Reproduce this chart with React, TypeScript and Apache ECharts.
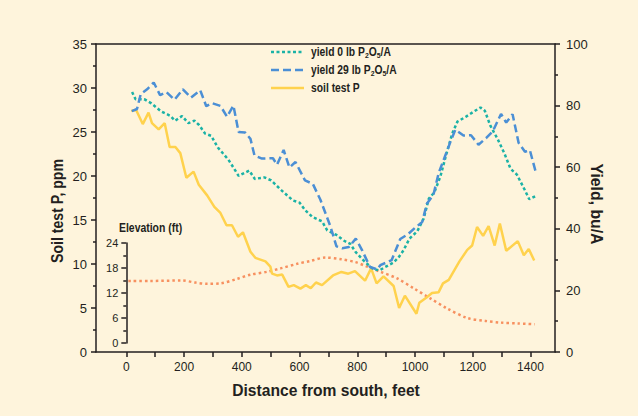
import React, { useEffect, useRef } from "react";
import * as echarts from "echarts";

// ---- data (feet from south) ----
const soilX = [17,34,57,77,89,112,133,150,170,187,208,233,251,280,305,326,347,366,387,404,430,447,482,499,505,522,540,562,580,603,622,639,657,678,716,745,769,792,827,848,867,891,926,945,965,1005,1015,1040,1059,1082,1097,1117,1154,1181,1198,1215,1236,1255,1276,1294,1316,1356,1377,1394,1413];
const soilP = [27.4,27.5,25.9,27.2,26.0,25.3,26.0,23.3,23.3,22.6,19.8,20.5,19.0,17.8,16.5,15.8,14.4,14.4,13.1,13.6,11.4,10.7,10.3,9.7,8.9,8.7,8.8,7.4,7.6,7.2,7.6,7.25,7.9,7.6,8.7,9.1,8.9,9.2,8.1,9.5,7.8,8.6,7.5,5.0,6.4,4.35,5.6,6.2,6.7,6.8,7.8,8.2,10.3,11.6,12.1,14.2,13.2,14.3,12.1,14.6,11.5,12.6,11.0,11.7,10.4];

const y29X = [19,37,50,72,95,117,139,167,196,224,256,277,297,326,349,371,389,411,430,444,470,508,522,545,565,586,619,646,672,707,728,748,771,795,817,844,869,880,919,949,975,1000,1025,1041,1064,1082,1105,1123,1140,1168,1194,1220,1247,1270,1298,1316,1338,1359,1381,1398,1417];
const yield29 = [78.2,78.9,83.7,85.3,87.5,83.4,84.4,81.9,85.3,82.6,85.0,79.8,80.8,79.9,76.4,80.0,71.4,71.3,69.2,63.8,62.8,62.9,60.8,65.6,59.9,61.7,55.7,54.6,49.5,40.8,34.3,33.7,34.1,36.8,33.0,27.6,26.8,28.2,29.8,36.7,38.2,40.3,42.2,48.1,51.1,58.1,63.8,68.3,72.2,70.3,70.4,67.3,69.5,71.7,77.3,74.5,77.2,67.9,65.0,65.5,58.9];

const y0X = [20,32,62,87,121,152,169,193,215,236,252,273,294,317,354,389,426,445,478,502,534,577,600,620,645,678,696,728,753,776,794,825,854,877,897,925,943,960,981,1008,1030,1048,1067,1088,1109,1129,1147,1175,1201,1227,1242,1261,1287,1310,1331,1353,1376,1396,1417];
const yield0 = [84.4,82.1,82.1,80.7,78.1,76.7,75.1,76.6,74.3,75.1,73.7,70.9,70.2,66.4,62.4,57.2,58.9,56.2,56.7,55.7,52.8,49.2,48.5,46.0,43.8,42.4,39.5,38.0,36.2,35.1,32.5,29.4,27.0,26.5,27.6,29.0,30.7,33.0,36.8,39.2,43.3,49.8,51.8,57.0,64.4,70.9,74.8,76.3,77.9,79.4,78.3,73.5,69.0,64.4,59.5,57.6,53.4,49.6,50.6];

const elevX = [7,83,193,239,280,326,384,430,488,534,592,638,690,745,794,828,880,938,996,1053,1111,1181,1244,1296,1358,1414];
const elev = [14.9,14.9,15.0,14.5,14.2,14.3,15.4,16.4,17.1,17.9,19.0,19.7,20.5,20.1,19.4,18.5,17.1,15.5,13.1,10.7,8.3,6.0,5.3,4.9,4.7,4.5];

const xTicks = [0,100,200,300,400,500,600,700,800,900,1000,1100,1200,1300,1400];
const xLabels = [0,200,400,600,800,1000,1200,1400];

const legendNames = ["yield 0 lb P{s|2}O{s|5}/A", "yield 29 lb P{s|2}O{s|5}/A", "soil test P"];

const FONT = '"Liberation Sans", Arial, Helvetica, sans-serif';
const INK = "#231f20";
const BG = "#fef4dc";
const TEAL = "#1ab2a6";
const BLUE = "#4b8fd5";
const YELLOW = "#ffd24d";
const ORANGE = "#f7905f";

const pairs = (xs: number[], ys: number[]) => xs.map((x, i) => [x, ys[i]]);

// layout
const GL = 96, GR = 83, GT = 44, GB = 64;
const XMIN = -105, XMAX = 1485;
const W = 638 - GL - GR;
const insetLeft = GL + (-XMIN) * W / (XMAX - XMIN);

export default function App() {
  const ref = useRef<HTMLDivElement>(null);
  useEffect(() => {
    const chart = echarts.init(ref.current!, null, { renderer: "svg" });
    const axisLine = { show: true, onZero: false, lineStyle: { color: INK, width: 1.5 } };
    const tick = { show: true, length: 5, lineStyle: { color: INK, width: 1.5 } };
    const minor = { show: true, splitNumber: 2, length: 3, lineStyle: { color: INK, width: 1.5 } };
    const lbl = { color: INK, fontFamily: FONT, fontSize: 12, formatter: (v: number) => String(v) };
    const legendLine = (i: number, color: string, dash: number[] | null) => ({
      type: "line",
      shape: { x1: 271, y1: 52 + i * 18, x2: 304, y2: 52 + i * 18 },
      style: { stroke: color, lineWidth: 2.5, lineDash: dash || undefined },
    });
    const legendText = (i: number) => ({
      type: "text",
      x: 311,
      y: 52 + i * 18,
      scaleX: 0.86,
      style: {
        text: legendNames[i],
        fill: INK,
        font: `bold 12px ${FONT}`,
        verticalAlign: "middle",
        lineHeight: 14,
        rich: { s: { fontSize: 8, fontWeight: "bold", fontFamily: FONT, fill: INK, verticalAlign: "bottom", lineHeight: 8, padding: [5, 0, 0, 0] } },
      },
    });
    chart.setOption({
      animation: false,
      backgroundColor: BG,
      grid: [
        { left: GL, right: GR, top: GT, bottom: GB },
        { left: insetLeft, right: GR, top: 243, bottom: 73 },
      ],
      xAxis: [
        {
          gridIndex: 0, type: "value", min: XMIN, max: XMAX, position: "bottom",
          axisLine, axisTick: { ...tick, customValues: xTicks },
          axisLabel: { ...lbl, margin: 9, customValues: xLabels },
          splitLine: { show: false },
        },
        {
          gridIndex: 0, type: "value", min: XMIN, max: XMAX, position: "top",
          axisLine, axisTick: { show: false }, axisLabel: { show: false }, splitLine: { show: false },
        },
        { gridIndex: 1, type: "value", min: 0, max: XMAX, show: false, splitLine: { show: false } },
      ],
      yAxis: [
        {
          gridIndex: 0, type: "value", min: 0, max: 35, interval: 5, position: "left",
          axisLine, axisTick: tick, minorTick: minor, splitLine: { show: false },
          axisLabel: { ...lbl, fontSize: 13, margin: 9 },
        },
        {
          gridIndex: 0, type: "value", min: 0, max: 100, interval: 20, position: "right",
          axisLine, axisTick: tick, minorTick: minor, splitLine: { show: false },
          axisLabel: { ...lbl, fontSize: 13, margin: 11 },
        },
        {
          gridIndex: 1, type: "value", min: 0, max: 24, interval: 6, position: "left",
          axisLine, axisTick: tick, minorTick: minor, splitLine: { show: false },
          axisLabel: { ...lbl, fontSize: 11, margin: 8 },
        },
      ],
      series: [
        {
          name: "elevation", type: "line", xAxisIndex: 2, yAxisIndex: 2, data: pairs(elevX, elev),
          symbol: "none", smooth: 0.3, lineStyle: { color: ORANGE, width: 2.5, type: [2.5, 3] },
        },
        {
          name: "soil test P", type: "line", xAxisIndex: 0, yAxisIndex: 0, data: pairs(soilX, soilP),
          symbol: "none", lineStyle: { color: YELLOW, width: 2.5 },
        },
        {
          name: "yield 0", type: "line", xAxisIndex: 0, yAxisIndex: 1, data: pairs(y0X, yield0),
          symbol: "none", lineStyle: { color: TEAL, width: 2.5, type: [3, 2.5] },
        },
        {
          name: "yield 29", type: "line", xAxisIndex: 0, yAxisIndex: 1, data: pairs(y29X, yield29),
          symbol: "none", lineStyle: { color: BLUE, width: 2.5, type: [8, 4] },
        },
      ],
      graphic: [
        legendLine(0, TEAL, [3, 2.5]),
        legendLine(1, BLUE, [8, 4]),
        legendLine(2, YELLOW, null),
        legendText(0),
        legendText(1),
        legendText(2),
        {
          type: "text", x: 119, y: 228, scaleX: 0.87,
          style: { text: "Elevation (ft)", fill: INK, font: `bold 12px ${FONT}`, verticalAlign: "middle" },
        },
        {
          type: "text", x: 57, y: 211, rotation: Math.PI / 2, scaleX: 0.83,
          style: { text: "Soil test P, ppm", fill: INK, font: `bold 17px ${FONT}`, align: "center", verticalAlign: "middle" },
        },
        {
          type: "text", x: 597, y: 204, rotation: -Math.PI / 2, scaleX: 0.93,
          style: { text: "Yield, bu/A", fill: INK, font: `bold 17px ${FONT}`, align: "center", verticalAlign: "middle" },
        },
        {
          type: "text", x: 326, y: 390, scaleX: 0.92,
          style: { text: "Distance from south, feet", fill: INK, font: `bold 17px ${FONT}`, align: "center", verticalAlign: "middle" },
        },
      ],
    });
    return () => chart.dispose();
  }, []);
  return <div ref={ref} style={{ position: "fixed", left: 0, top: 0, width: 638, height: 416 }} />;
}
